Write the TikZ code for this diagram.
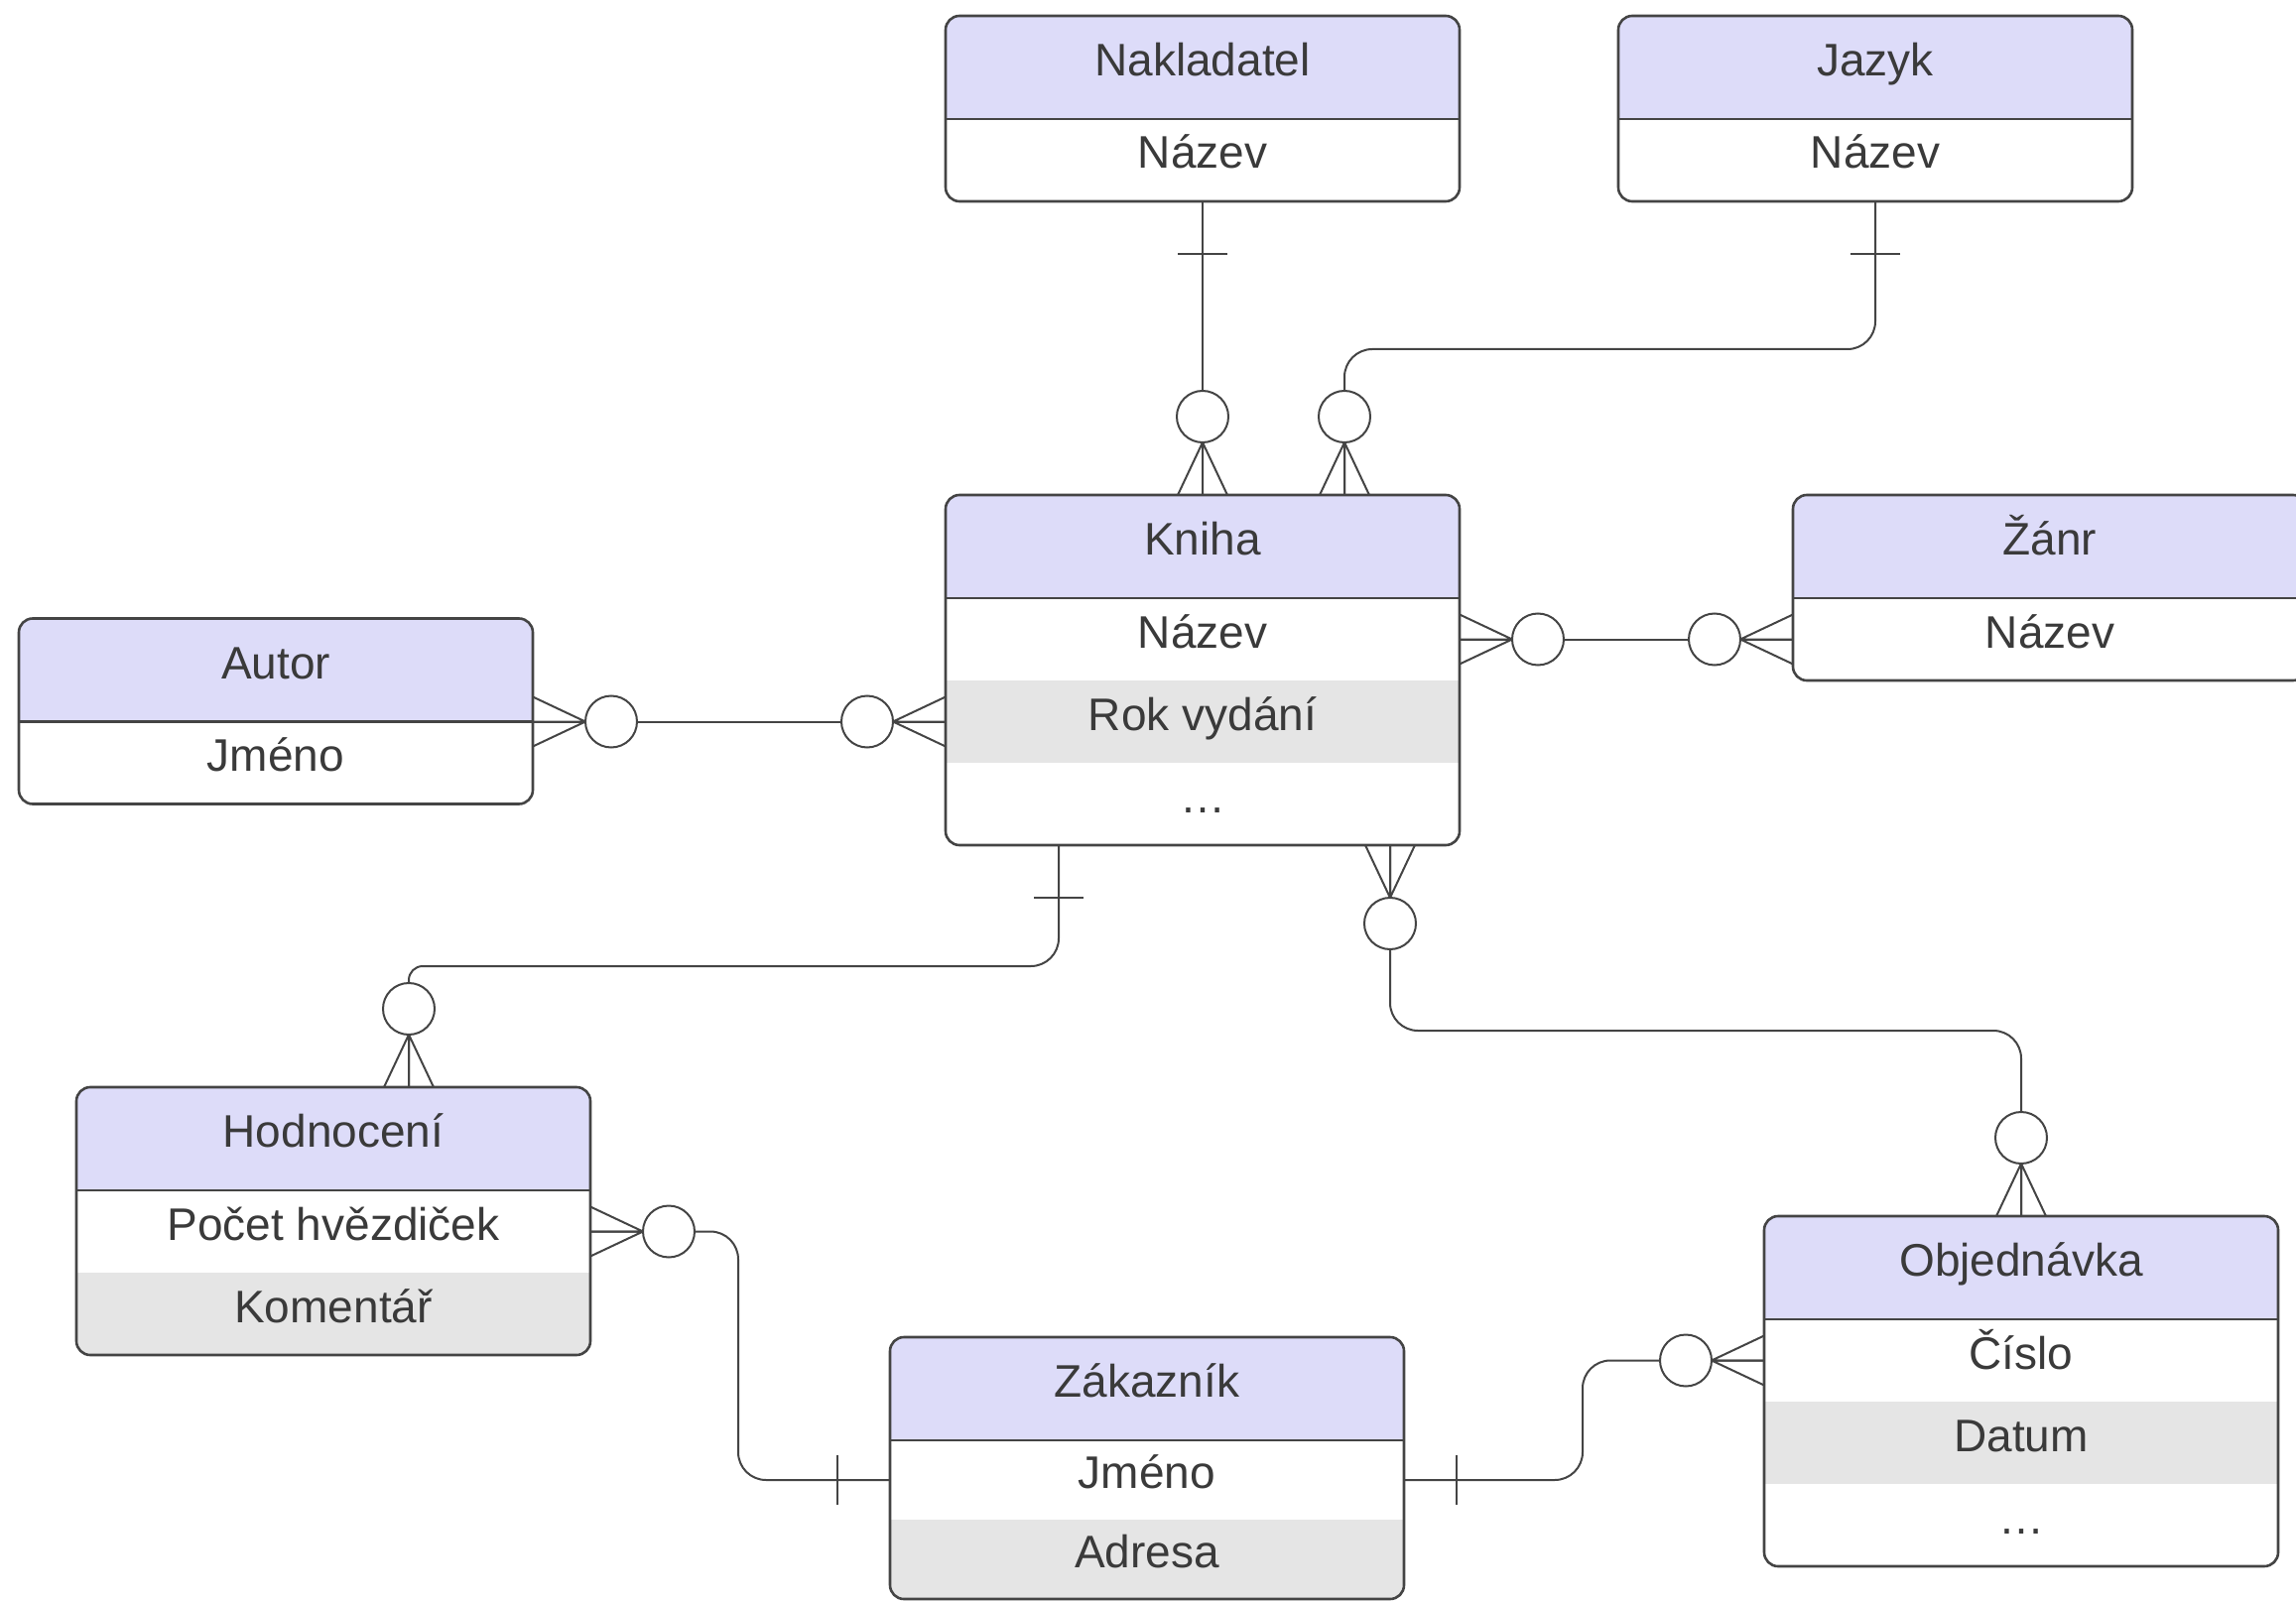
\documentclass[tikz,border=0pt]{standalone}
\usepackage{fontspec}
\setmainfont{Liberation Sans}
\usetikzlibrary{calc}
\definecolor{hdrfill}{HTML}{DDDCF9}
\definecolor{rowgray}{HTML}{E5E5E5}
\definecolor{ink}{HTML}{3A3A3A}
\definecolor{linec}{HTML}{444444}
\tikzset{
  border/.style={draw=linec, line width=1.3pt},
  conn/.style={draw=linec, line width=1pt},
  txt/.style={inner sep=0pt, outer sep=0pt, minimum width=259pt, text=ink,
    font=\fontsize{23}{27}\selectfont, text height=16.5pt, text depth=8pt},
  hdr/.style={txt, minimum height=52pt},
  rowtext/.style={txt},
}
% entity: name, left, top, row height (px), title, rows text/fill
\newcommand\erent[6]{%
  \foreach [count=\nr] \rt/\rf in {#6} {\xdef\nrows{\nr}}%
  \begin{scope}
    \clip[rounded corners=7pt] (#2,#3) rectangle ++(518,{104+\nrows*#4});
    \fill[hdrfill] (#2,#3) rectangle ++(518,104);
    \foreach [count=\i] \rt/\rf in {#6} {\fill[\rf] (#2,{#3+104+(\i-1)*#4}) rectangle ++(518,#4);}
  \end{scope}
  \node[hdr] (#1) at ({#2+259},{#3+52}) {#5};
  \foreach [count=\i] \rt/\rf in {#6} {\node[rowtext, minimum height={#4*0.5pt}] (#1-\i) at ({#2+259},{#3+104+(\i-0.5)*#4}) {\rt};}
  \draw[border] (#1.south west) -- (#1.south east);
  \draw[border, rounded corners=7pt] (#2,#3) rectangle ++(518,{104+\nrows*#4});
}
% zero-or-many end: point, direction angle away from entity
\newcommand\zmany[2]{%
  \begin{scope}[shift={(#1)}, rotate=#2]
    \draw[conn] (0,-25) -- (53,0) -- (0,25) (0,0) -- (53,0);
    \draw[conn, fill=white] (79,0) circle[radius=26];
  \end{scope}}
% exactly-one end: point, direction angle away from entity
\newcommand\onebar[2]{%
  \begin{scope}[shift={(#1)}, rotate=#2]
    \draw[conn] (53,-25) -- (53,25);
  \end{scope}}

\begin{document}
\begin{tikzpicture}[x=0.5pt, y=-0.5pt]
\useasboundingbox (0,0) rectangle (2314,1615);

\erent{nak}{953}{16}{83}{Nakladatel}{Název/white}
\erent{jaz}{1631}{16}{83}{Jazyk}{Název/white}
\erent{kniha}{953}{499}{83}{Kniha}{Název/white,Rok vydání/rowgray,\ldots/white}
\erent{zanr}{1807}{499}{83}{Žánr}{Název/white}
\erent{autor}{19}{623.5}{83}{Autor}{Jméno/white}
\erent{hod}{77}{1096}{83}{Hodnocení}{Počet hvězdiček/white,Komentář/rowgray}
\erent{zak}{897}{1348}{80}{Zákazník}{Jméno/white,Adresa/rowgray}
\erent{obj}{1778}{1226}{83}{Objednávka}{Číslo/white,Datum/rowgray,\ldots/white}

\coordinate (kn2) at ($(kniha.north)+(143,0)$);
\coordinate (knb) at ($(kniha-3.south)+(-145,0)$);
\coordinate (knr) at ($(kniha-3.south)+(189,0)$);
\coordinate (hodt) at ($(hod.north)+(76,0)$);

% connectors
\draw[conn] (nak-1.south) -- (kniha.north);
\draw[conn, rounded corners=14pt] (jaz-1.south) -- ++(0,149) -| (kn2);
\draw[conn] (kniha-1.east) -- (zanr-1.west);
\draw[conn] (autor.south east) -- (kniha-2.west);
\draw[conn, rounded corners=14pt] (knb) -- ++(0,122) [rounded corners=7pt] -| (hodt);
\draw[conn, rounded corners=14pt] (knr) -- ++(0,187) -| (obj.north);
\draw[conn, rounded corners=14pt] (hod-1.east) -- ++(149,0) |- (zak-1.west);
\draw[conn, rounded corners=14pt] (zak-1.east) -- ++(180,0) |- (obj-1.west);

% end symbols
\onebar{nak-1.south}{-90}
\zmany{kniha.north}{90}
\onebar{jaz-1.south}{-90}
\zmany{kn2}{90}
\zmany{kniha-1.east}{0}
\zmany{zanr-1.west}{180}
\zmany{autor.south east}{0}
\zmany{kniha-2.west}{180}
\onebar{knb}{-90}
\zmany{hodt}{90}
\zmany{knr}{-90}
\zmany{obj.north}{90}
\zmany{hod-1.east}{0}
\onebar{zak-1.west}{180}
\onebar{zak-1.east}{0}
\zmany{obj-1.west}{180}
\end{tikzpicture}
\end{document}
